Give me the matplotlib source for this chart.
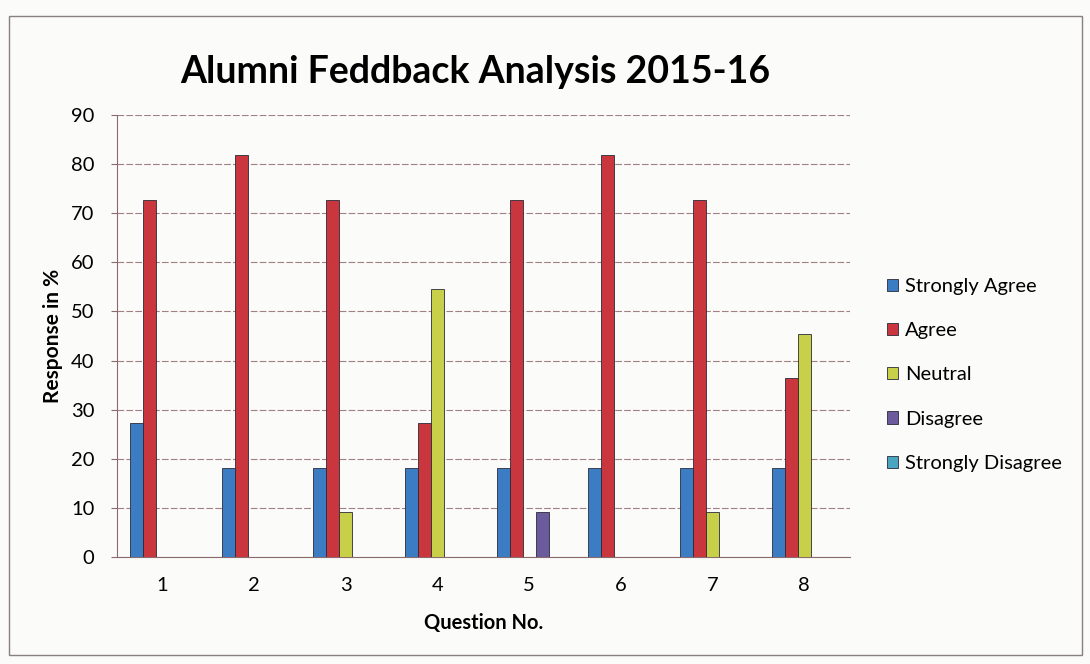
import matplotlib
matplotlib.use("Agg")
import matplotlib.pyplot as plt
import numpy as np
from matplotlib.patches import Rectangle

questions = ["1", "2", "3", "4", "5", "6", "7", "8"]
series_names = ["Strongly Agree", "Agree", "Neutral", "Disagree", "Strongly Disagree"]
strongly_agree = [27.3, 18.2, 18.2, 18.2, 18.2, 18.2, 18.2, 18.2]
agree = [72.7, 81.8, 72.7, 27.3, 72.7, 81.8, 72.7, 36.4]
neutral = [0, 0, 9.1, 54.5, 0, 0, 9.1, 45.5]
disagree = [0, 0, 0, 0, 9.1, 0, 0, 0]
strongly_disagree = [0, 0, 0, 0, 0, 0, 0, 0]
yticks = [0, 10, 20, 30, 40, 50, 60, 70, 80, 90]

colors = ["#3b7cc2", "#c9363e", "#c8d04a", "#6b5a9c", "#4aa6c0"]

plt.rcParams['font.family'] = ['Lato', 'DejaVu Sans']

fig = plt.figure(figsize=(10.9, 6.64), dpi=100)
fig.patch.set_facecolor("#fbfbfa")
fig.add_artist(Rectangle((0.008, 0.014), 0.985, 0.962, transform=fig.transFigure,
                         fill=False, edgecolor="#8a7f7f", linewidth=1.0))

ax = fig.add_axes([0.107, 0.161, 0.673, 0.666])
ax.set_facecolor("#fbfbfa")

x = np.arange(len(questions))
w = 0.142
data = [strongly_agree, agree, neutral, disagree, strongly_disagree]
for i, (vals, name, c) in enumerate(zip(data, series_names, colors)):
    ax.bar(x + (i - 2) * w, vals, width=w, color=c, edgecolor="#2a2a3a",
           linewidth=0.6, label=name, zorder=3)

ax.set_xlim(-0.5, len(questions) - 0.5)
ax.set_ylim(0, 90)
ax.set_yticks(yticks)
ax.set_yticklabels([str(t) for t in yticks], fontsize=14.5)
ax.set_xticks(x)
ax.set_xticklabels(questions, fontsize=14.5)
ax.tick_params(axis='x', length=0, pad=14)
ax.tick_params(axis='y', length=4, color="#8a6a6a", pad=12)

ax.grid(axis='y', color="#a08080", linewidth=0.8, linestyle=(0, (6, 2)), zorder=0)
for s in ["top", "right"]:
    ax.spines[s].set_visible(False)
ax.spines["left"].set_color("#8a6a6a")
ax.spines["bottom"].set_color("#8a6a6a")

ax.set_ylabel("Response in %", fontsize=15, fontweight="bold", labelpad=6)
ax.set_xlabel("Question No.", fontsize=14.5, fontweight="bold", labelpad=14)

fig.text(0.436, 0.892, "Alumni Feddback Analysis 2015-16", fontsize=27,
         fontweight="bold", ha="center", va="center")

leg = ax.legend(loc="upper left", bbox_to_anchor=(1.025, 0.672), frameon=False,
                fontsize=14.5, handlelength=0.55, handleheight=0.55,
                handletextpad=0.35, labelspacing=1.35)

fig.savefig("out.png", dpi=100, facecolor=fig.get_facecolor())
